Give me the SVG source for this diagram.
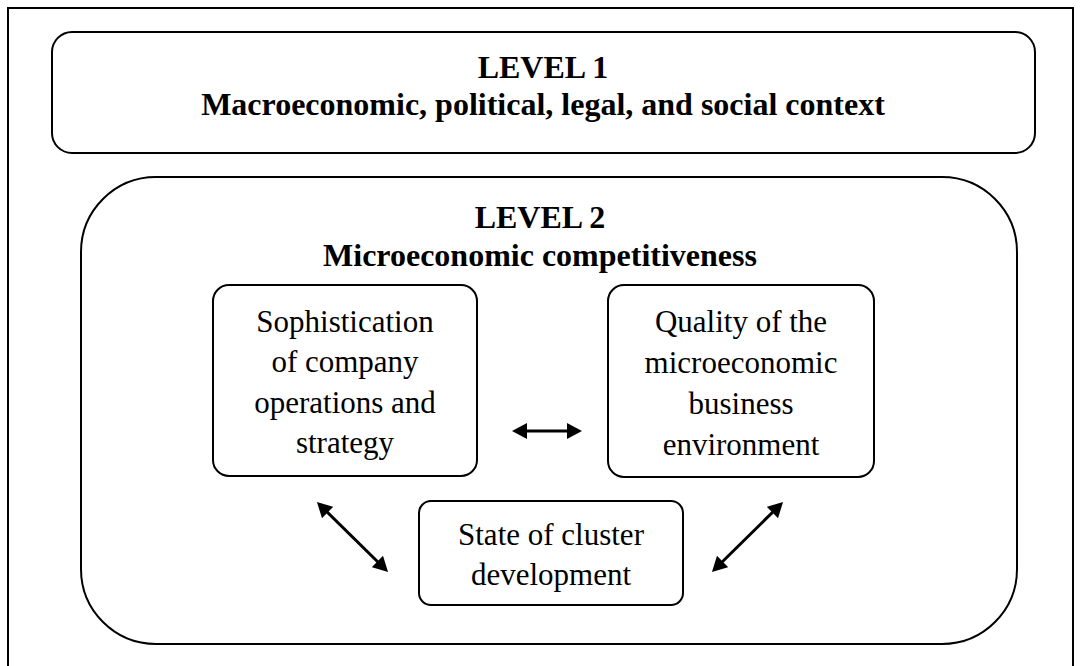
<svg xmlns="http://www.w3.org/2000/svg" width="1081" height="666" viewBox="0 0 1081 666">
<style>
.box{fill:#fff;stroke:#000;stroke-width:2}
.frame{fill:none;stroke:#000;stroke-width:2}
.hb{font-family:"Liberation Serif","Times New Roman",serif;font-weight:bold;font-size:32px;text-anchor:middle;fill:#000}
.t{font-family:"Liberation Serif","Times New Roman",serif;font-size:31px;text-anchor:middle;fill:#000}
.arr{stroke:#000;stroke-width:3;fill:none;marker-start:url(#ah);marker-end:url(#ah)}
</style>
<defs>
<marker id="ah" markerUnits="userSpaceOnUse" markerWidth="16" markerHeight="16" refX="10" refY="8" orient="auto-start-reverse">
<path d="M0,0 L15,8 L0,16 z" fill="#000"/>
</marker>
<clipPath id="clipS"><rect x="213" y="285" width="264" height="175"/></clipPath>
</defs>
<rect class="frame" x="8" y="8" width="1065" height="670"/>
<g id="level1">
<rect class="box" x="52" y="32" width="983" height="121" rx="20" ry="20"/>
<text class="hb" x="543" y="78">LEVEL 1</text>
<text class="hb" x="543" y="115">Macroeconomic, political, legal, and social context</text>
</g>
<g id="level2">
<rect class="box" x="81" y="177" width="936" height="467" rx="75" ry="75"/>
<text class="hb" x="540" y="228">LEVEL 2</text>
<text class="hb" x="540" y="266">Microeconomic competitiveness</text>
</g>
<g id="sophistication">
<rect class="box" x="213" y="285" width="264" height="191" rx="16" ry="16"/>
<g clip-path="url(#clipS)">
<text class="t" x="345" y="332">Sophistication</text>
<text class="t" x="345" y="372">of company</text>
<text class="t" x="345" y="413">operations and</text>
<text class="t" x="345" y="453">strategy</text>
</g>
</g>
<g id="quality">
<rect class="box" x="608" y="285" width="266" height="192" rx="16" ry="16"/>
<text class="t" x="741" y="332">Quality of the</text>
<text class="t" x="741" y="373">microeconomic</text>
<text class="t" x="741" y="414">business</text>
<text class="t" x="741" y="455">environment</text>
</g>
<g id="cluster">
<rect class="box" x="419" y="501" width="264" height="104" rx="12" ry="12"/>
<text class="t" x="551" y="545">State of cluster</text>
<text class="t" x="551" y="585">development</text>
</g>
<g id="connectors">
<line class="arr" x1="517" y1="431" x2="577" y2="431"/>
<line class="arr" x1="320.5" y1="505.5" x2="384.5" y2="568.5"/>
<line class="arr" x1="715.5" y1="568.5" x2="779.5" y2="505.5"/>
</g>
</svg>
